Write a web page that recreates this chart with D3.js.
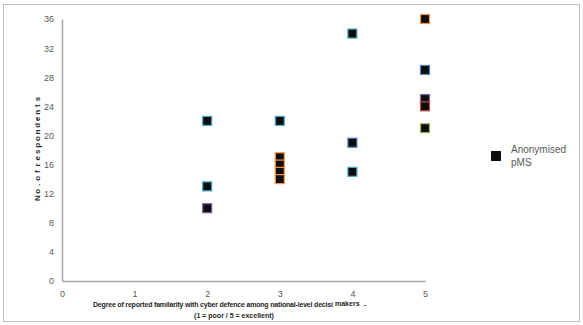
<!DOCTYPE html>
<html>
<head>
<meta charset="utf-8">
<script src="https://cdn.jsdelivr.net/npm/d3@7"></script>
<style>
  body { margin: 0; background: #fff; }
  svg { display: block; font-family: 'Liberation Sans', 'DejaVu Sans', sans-serif; }
</style>
</head>
<body>
<svg id="canvas" width="583" height="325"></svg>
<script>
// familiarity score (x) and number of respondents (y) per anonymised pMS
let familiarity = [2, 2, 2, 3, 3, 3, 3, 3, 4, 4, 4, 5, 5, 5, 5, 5];
let respondents = [22, 13, 10, 22, 17, 16, 15, 14, 34, 19, 15, 36, 29, 25, 24, 21];
let outlines = ['#4bacc6', '#4bacc6', '#8064a2', '#4bacc6', '#f79646', '#f79646', '#f79646', '#f79646',
  '#4bacc6', '#4f81bd', '#4bacc6', '#f79646', '#4f81bd', '#8064a2', '#c0504d', '#9bbb59'];
let xTicks = [0, 1, 2, 3, 4, 5];
let yTicks = [0, 4, 8, 12, 16, 20, 24, 28, 32, 36];
let yTitle = 'No.ofrespondents';

let canvas = d3.select('#canvas');

// outer frame
canvas.append('rect')
  .attr('x', 3.5).attr('y', 4.5)
  .attr('width', 576).attr('height', 317)
  .attr('fill', 'none')
  .attr('stroke', '#bfbfbf');

let x = d3.scaleLinear().domain([0, 5]).range([62, 425]);
let y = d3.scaleLinear().domain([0, 36]).range([281, 19]);

let xAxis = canvas.append('g')
  .attr('transform', 'translate(0,' + y(0) + ')')
  .call(d3.axisBottom(x).tickValues(xTicks).tickFormat(d3.format('d')).tickSize(0).tickPadding(10));
let yAxis = canvas.append('g')
  .attr('transform', 'translate(' + x(0) + ',0)')
  .call(d3.axisLeft(y).tickValues(yTicks).tickFormat(d3.format('d')).tickSize(0).tickPadding(8));

[xAxis, yAxis].forEach((axis) => {
  axis.select('.domain').attr('stroke', '#a6a6a6').attr('stroke-width', 1.5);
  axis.selectAll('text').attr('fill', '#595959').style('font-size', '9px');
});

// points
canvas.selectAll('rect.point')
  .data(familiarity)
  .enter()
  .append('rect')
  .attr('class', 'point')
  .attr('x', (d) => x(d) - 4.5)
  .attr('y', (d, i) => y(respondents[i]) - 4.5)
  .attr('width', 9)
  .attr('height', 9)
  .attr('fill', '#0d0d0d')
  .attr('stroke', (d, i) => outlines[i])
  .attr('stroke-width', 1.2);

// y title: stacked rotated letters
let letters = yTitle.split('');
canvas.append('g')
  .selectAll('text')
  .data(letters)
  .enter()
  .append('text')
  .attr('transform', (d, i) => 'translate(38,' + (198 - i * 6.6) + ') rotate(-90)')
  .attr('text-anchor', 'middle')
  .attr('dominant-baseline', 'middle')
  .style('font-size', '8px')
  .style('font-weight', 'bold')
  .attr('fill', '#262626')
  .text((d) => d);

// x title
let xTitle = canvas.append('g')
  .style('font-size', '7px')
  .style('font-weight', 'bold')
  .attr('fill', '#262626');
xTitle.append('text').attr('x', 93).attr('y', 307)
  .attr('textLength', 240)
  .text('Degree of  reported familarity  with cyber defence among national-level decisi');
xTitle.append('text').attr('x', 335).attr('y', 306).text('makers');
xTitle.append('text').attr('x', 364).attr('y', 307).text('-');
xTitle.append('text').attr('x', 234).attr('y', 318).attr('text-anchor', 'middle')
  .text('(1 = poor / 5 = excellent)');

// legend
let legend = canvas.append('g');
legend.append('rect')
  .attr('x', 491).attr('y', 151)
  .attr('width', 10).attr('height', 10)
  .attr('fill', '#0d0d0d');
legend.append('text').attr('x', 511).attr('y', 153)
  .attr('fill', '#595959').style('font-size', '10px').text('Anonymised');
legend.append('text').attr('x', 511).attr('y', 166)
  .attr('fill', '#595959').style('font-size', '10px').text('pMS');
</script>
</body>
</html>
